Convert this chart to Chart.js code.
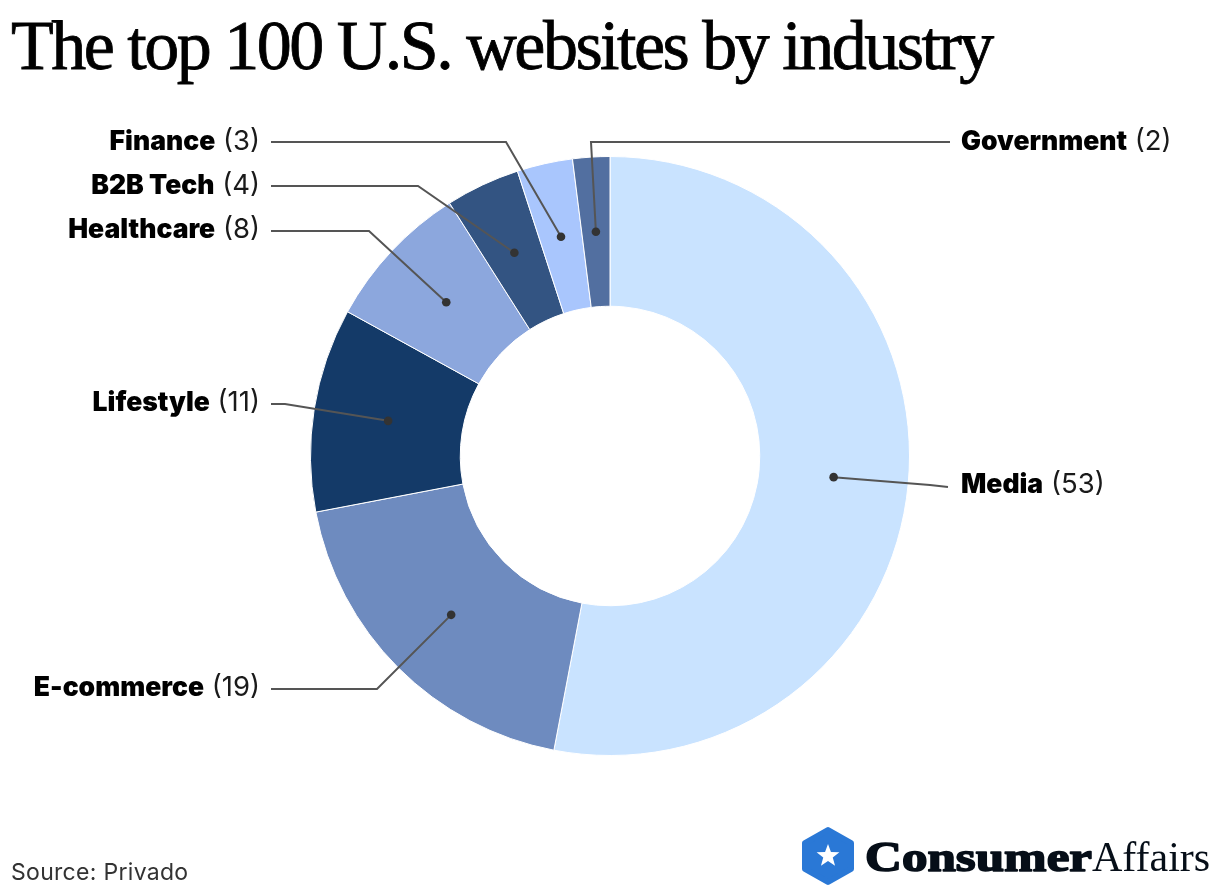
<!DOCTYPE html>
<html>
<head>
<meta charset="utf-8">
<title>The top 100 U.S. websites by industry</title>
<script src="https://cdn.jsdelivr.net/npm/chart.js@4"></script>
<style>
  html, body { margin: 0; background: #fff; }
  canvas { display: block; }
</style>
</head>
<body>
<canvas id="chart" width="1220" height="896"></canvas>
<script>
const categories = ["Media", "E-commerce", "Lifestyle", "Healthcare", "B2B Tech", "Finance", "Government"];
const values = [53, 19, 11, 8, 4, 3, 2];
const colors = ["#c9e3ff", "#6e8bbf", "#143a68", "#8ca7dd", "#335482", "#a9c6fd", "#526fa0"];

// leader line layout, same order as categories: label anchor, elbow
const labelSide = ["left", "right", "right", "right", "right", "right", "left"];
const labelX = [961, 260, 260, 260, 260, 260, 961];
const labelY = [485, 688, 403, 230, 186, 142, 142];
const lineStart = [[948, 487], [271, 689], [271, 404], [271, 231], [271, 186], [271, 142], [950, 142]];
const lineElbow = [[930, 485], [377, 689], [285, 404], [369, 231], [418, 186], [506, 142], [591, 142]];

const SANS = 'Inter, "Noto Sans", sans-serif';
const SERIF = '"Liberation Serif", serif';

function drawLeaders(c, chart) {
    const arcs = chart.getDatasetMeta(0).data;
    arcs.forEach((arc, i) => {
        const p = arc.getCenterPoint();
        c.strokeStyle = "#555555";
        c.lineWidth = 2;
        c.beginPath();
        c.moveTo(lineStart[i][0], lineStart[i][1]);
        c.lineTo(lineElbow[i][0], lineElbow[i][1]);
        c.lineTo(p.x, p.y);
        c.stroke();
        c.fillStyle = "#333333";
        c.beginPath();
        c.arc(p.x, p.y, 4.3, 0, Math.PI * 2);
        c.fill();
    });
}

function drawLabels(c) {
    c.textBaseline = "middle";
    categories.forEach((name, i) => {
        const num = " (" + values[i] + ")";
        c.font = "900 26.5px " + SANS;
        const w1 = c.measureText(name).width;
        c.font = "400 27.5px " + SANS;
        const w2 = c.measureText(num).width;
        const x = labelSide[i] == "left" ? labelX[i] : labelX[i] - w1 - w2;
        c.textAlign = "left";
        c.fillStyle = "#000000";
        c.font = "900 26.5px " + SANS;
        c.fillText(name, x, labelY[i]);
        c.fillStyle = "#1a1a1a";
        c.font = "400 27.5px " + SANS;
        c.fillText(num, x + w1, labelY[i]);
    });
}

function drawLogo(c) {
    // hexagon badge
    c.fillStyle = "#2a78d6";
    c.strokeStyle = "#2a78d6";
    c.lineWidth = 6;
    c.lineJoin = "round";
    c.beginPath();
    c.moveTo(828, 830);
    c.lineTo(851, 843);
    c.lineTo(851, 869);
    c.lineTo(828, 882);
    c.lineTo(805, 869);
    c.lineTo(805, 843);
    c.closePath();
    c.fill();
    c.stroke();
    c.fillStyle = "#ffffff";
    c.beginPath();
    for (let k = 0; k < 10; k++) {
        const r = k % 2 ? 5 : 12;
        const a = -Math.PI / 2 + k * Math.PI / 5;
        c.lineTo(828 + r * Math.cos(a), 856 + r * Math.sin(a));
    }
    c.closePath();
    c.fill();

    c.textAlign = "left";
    c.textBaseline = "alphabetic";
    c.fillStyle = "#060e18";
    c.strokeStyle = "#060e18";
    c.lineWidth = 1.6;
    c.font = "700 42px " + SERIF;
    const w = c.measureText("Consumer").width;
    const sx = 227 / w; // the wordmark is much wider than the installed serif
    c.save();
    c.translate(865, 871);
    c.scale(sx, 1);
    c.fillText("Consumer", 0, 0);
    c.strokeText("Consumer", 0, 0);
    c.restore();
    c.font = "400 42px " + SERIF;
    c.fillText("Affairs", 1092, 871);
}

const textPlugin = {
    id: "textPlugin",
    afterDraw(chart) {
        const c = chart.ctx;
        c.save();
        drawLeaders(c, chart);
        drawLabels(c);

        c.textAlign = "left";
        c.textBaseline = "alphabetic";
        c.fillStyle = "#000000";
        c.strokeStyle = "#000000";
        c.lineWidth = 0.8;
        c.font = "400 70px " + SERIF;
        c.letterSpacing = "-2.5px";
        c.fillText("The top 100 U.S. websites by industry", 11, 69);
        c.strokeText("The top 100 U.S. websites by industry", 11, 69);

        c.fillStyle = "#333333";
        c.font = "400 23px " + SANS;
        c.letterSpacing = "0.3px";
        c.fillText("Source: Privado", 11, 880);
        c.letterSpacing = "0px";

        drawLogo(c);
        c.restore();
    }
};

new Chart(document.getElementById("chart"), {
    type: "doughnut",
    data: {
        labels: categories,
        datasets: [{
            data: values,
            backgroundColor: colors,
            borderColor: "#ffffff",
            borderWidth: 1
        }]
    },
    options: {
        responsive: false,
        animation: false,
        cutout: "50%",
        layout: { padding: { top: 156, bottom: 140, left: 310, right: 310 } },
        plugins: { legend: { display: false }, tooltip: { enabled: false } }
    },
    plugins: [textPlugin]
});
</script>
</body>
</html>
